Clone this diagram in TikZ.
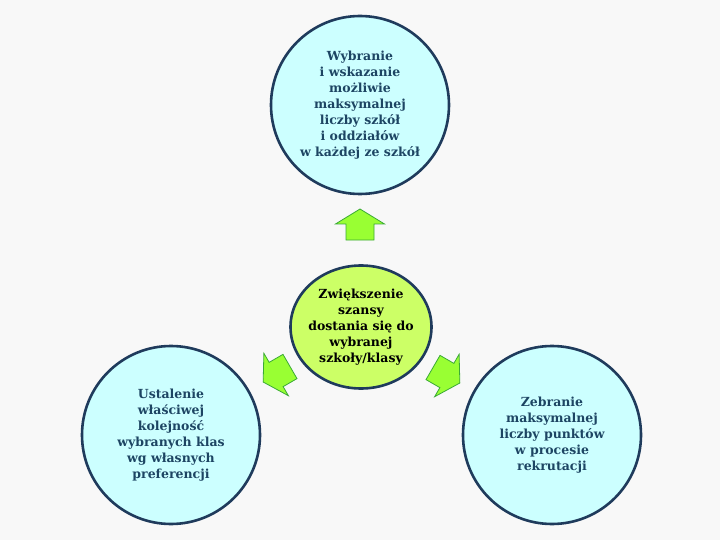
\documentclass[tikz,border=0pt]{standalone}
\usepackage{fontspec}
\setmainfont{DejaVu Serif}
\usetikzlibrary{shapes.geometric}
\definecolor{bg}{HTML}{F8F8F8}
\definecolor{bluefill}{HTML}{CCFFFF}
\definecolor{greenfill}{HTML}{CCFF66}
\definecolor{ringcol}{HTML}{1F3B5C}
\definecolor{txtblue}{HTML}{1D4563}
\definecolor{arrfill}{HTML}{99FF33}
\definecolor{arrline}{HTML}{3AAA35}
\tikzset{
  bluecirc/.style={circle, draw=ringcol, line width=2.6pt, fill=bluefill,
    minimum size=178pt, inner sep=0pt, align=center, text=txtblue,
    font=\fontsize{12.5pt}{16pt}\selectfont\bfseries},
  greencirc/.style={ellipse, draw=ringcol, line width=2.6pt, fill=greenfill,
    minimum width=141pt, minimum height=123pt, inner sep=-12pt, align=center, text=black,
    font=\fontsize{12.5pt}{16pt}\selectfont\bfseries},
  arrowshape/.style={draw=arrline, line width=0.8pt, fill=arrfill, line join=miter},
}
\newcommand{\fatarrow}{%
  (0,-16) -- (24.5,-1) -- (14,-1) -- (14,15) -- (-14,15) -- (-14,-1) -- (-24.5,-1) -- cycle}
\begin{document}
\begin{tikzpicture}[x=1pt,y=-1pt]
\useasboundingbox (0,0) rectangle (720,540);
\fill[bg] (0,0) rectangle (720,540);

\node[bluecirc] (top) at (360,105) {Wybranie\\i wskazanie\\możliwie\\maksymalnej\\liczby szkół\\i oddziałów\\w każdej ze szkół};
\node[greencirc] (mid) at (361,327) {Zwiększenie\\szansy\\dostania się do\\wybranej\\szkoły/klasy};
\node[bluecirc] (left) at (171,435) {Ustalenie\\właściwej\\kolejność\\wybranych klas\\wg własnych\\preferencji};
\node[bluecirc] (right) at (552,435) {Zebranie\\maksymalnej\\liczby punktów\\w procesie\\rekrutacji};

\begin{scope}[shift={(360,225)}]
  \draw[arrowshape] \fatarrow;
\end{scope}
\begin{scope}[shift={(277,374)}, rotate=120]
  \draw[arrowshape] \fatarrow;
\end{scope}
\begin{scope}[shift={(446,375)}, rotate=-120]
  \draw[arrowshape] \fatarrow;
\end{scope}
\end{tikzpicture}
\end{document}
